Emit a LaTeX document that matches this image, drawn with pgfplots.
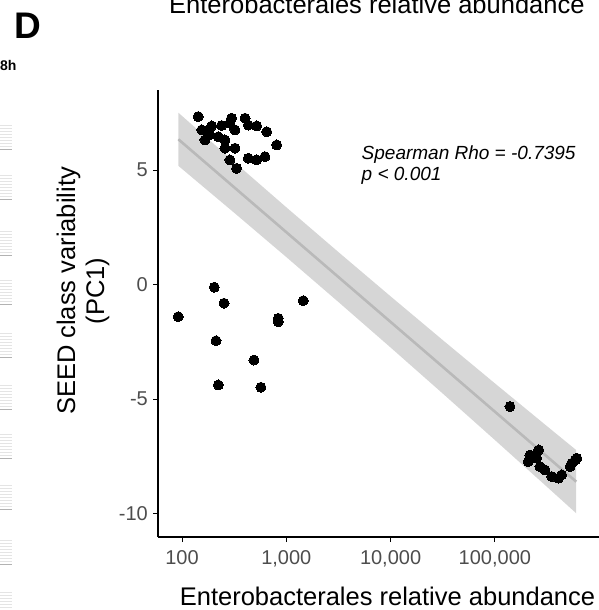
\documentclass[border=0pt]{standalone}
\usepackage{pgfplots}
\pgfplotsset{compat=1.18}
\usepackage{fontspec}
\setmainfont{Liberation Sans}
\definecolor{tickgray}{RGB}{77,77,77}
\definecolor{grey60}{RGB}{153,153,153}
\definecolor{regline}{RGB}{185,185,185}
\definecolor{faint}{RGB}{228,228,228}
\begin{document}
\begin{tikzpicture}[x=1pt,y=1pt]
\useasboundingbox (-158,-73) rectangle (441,537);
\begin{axis}[
  at={(0,0)}, anchor=south west,
  scale only axis, width=459pt, height=446.5pt,
  xmode=log, log basis x=10,
  xmin=58.9, xmax=1482000,
  ymin=-11.02, ymax=8.48,
  axis x line*=bottom, axis y line*=left,
  axis line style={line width=1.4pt, black, -},
  xtick={100,1000,10000,100000},
  xticklabels={100,{1,000},{10,000},{100,000}},
  ytick={-10,-5,0,5},
  yticklabels={-10,-5,0,5},
  xminorticks=false, yminorticks=false,
  tick style={black, line width=0.8pt},
  major tick length=5pt, tick align=outside,
  ticklabel style={font=\fontsize{20}{24}\selectfont, text=tickgray, inner sep=0pt},
  xticklabel style={anchor=north, yshift=-8pt},
  yticklabel style={anchor=east, xshift=-5pt},
]
% data points
\addplot[only marks, mark=*, mark size=5pt, mark options={fill=black, draw=black, line width=0pt}] coordinates {
(143,7.34) (155,6.76) (193,6.93) (166,6.32) (170,6.71) (185,6.55) (223,6.46) (258,6.32)
(299,7.27) (288,7.05) (322,6.76) (240,6.95) (258,5.96) (322,5.96) (402,7.27) (432,6.97)
(520,6.93) (649,6.68) (809,6.10) (432,5.52) (520,5.45) (625,5.59) (288,5.45) (334,5.08)
(204,-0.11) (253,-0.81) (92,-1.40) (1455,-0.70) (838,-1.47) (838,-1.62) (212,-2.45)
(490,-3.29) (223,-4.38) (571,-4.48)
(139600,-5.32) (217000,-7.44) (209000,-7.73) (251000,-7.58) (270000,-7.95) (302000,-8.09)
(351000,-8.38) (407000,-8.45) (437000,-8.31) (526000,-7.95) (546000,-7.80) (590000,-7.66)
(610000,-7.58) (263000,-7.22)
};
% confidence band
\addplot[draw=none, fill=grey60, fill opacity=0.4] coordinates {
(92.3,7.51) (316.2,5.363) (1000,3.380) (3162,1.423) (10000,-0.510) (31623,-2.420)
(100000,-4.310) (316228,-6.182) (602560,-7.225)
(602560,-9.985) (316228,-8.832) (100000,-6.784) (31623,-4.754) (10000,-2.744)
(3162,-0.757) (1000,1.206) (316.2,3.143) (92.3,5.19)
};
% regression line
\addplot[regline, line width=2.6pt] coordinates {(92.3,6.35) (602560,-8.605)};
\end{axis}
% axis labels
\node[anchor=base, inner sep=0pt, font=\fontsize{25.5}{29}\selectfont] at (229.5,-68) {Enterobacterales relative abundance};
\node[rotate=90, align=center, inner sep=0pt, font=\fontsize{25.5}{29}\selectfont] at (-75,246) {SEED class variability\\(PC1)};
% annotation
\node[anchor=base west, inner sep=0pt, font=\fontsize{19}{22}\selectfont\itshape] at (203.5,377) {Spearman Rho = -0.7395};
\node[anchor=base west, inner sep=0pt, font=\fontsize{19}{22}\selectfont\itshape] at (203.5,356) {p < 0.001};
% panel letter and cut-off neighbouring texts
\node[anchor=base west, inner sep=0pt, font=\fontsize{37}{40}\selectfont\bfseries] at (-144,498.6) {D};
\node[anchor=base west, inner sep=0pt, font=\fontsize{14}{16}\selectfont\bfseries] at (-158,466) {8h};
\node[anchor=base west, inner sep=0pt, font=\fontsize{25.5}{29}\selectfont] at (11,523) {Enterobacterales relative abundance};
% faint remnants of the neighbouring panel
\foreach \t in {125,175,231,280,333,385,434,485,540,592}{
  \foreach \d in {0,3,...,21}{
    \draw[faint, line width=0.6pt] (-158,537-\t-\d) -- (-146,537-\t-\d);
  }
  \draw[gray!60, line width=0.8pt] (-158,537-\t-24) -- (-146,537-\t-24);
}
\end{tikzpicture}
\end{document}
